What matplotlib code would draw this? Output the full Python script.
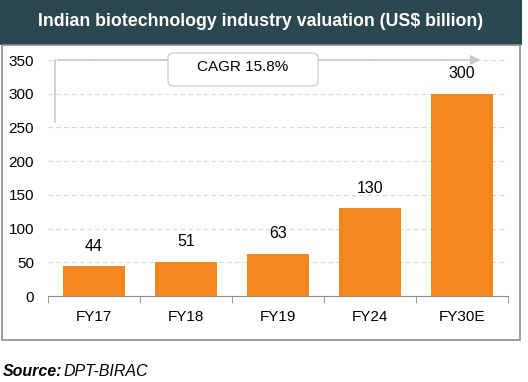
import matplotlib.pyplot as plt
from matplotlib.patches import Rectangle, FancyBboxPatch

plt.rcParams['font.family'] = ['Liberation Sans', 'DejaVu Sans']

years = ['FY17', 'FY18', 'FY19', 'FY24', 'FY30E']
values = [44, 51, 63, 130, 300]
yticks = [0, 50, 100, 150, 200, 250, 300, 350]

W, H = 528, 382
fig = plt.figure(figsize=(W / 100, H / 100), dpi=100)

# title banner
fig.patches.append(Rectangle((0, 1 - 45 / H), 522 / W, 45 / H, transform=fig.transFigure,
                             facecolor='#2b4750', edgecolor='none'))
fig.text(261 / W, 1 - 21 / H, 'Indian biotechnology industry valuation (US$ billion)',
         color='white', fontsize=12.8, fontweight='bold', ha='center', va='center')
# chart border
fig.patches.append(Rectangle((2 / W, 1 - 340 / H), 518 / W, 295 / H, transform=fig.transFigure,
                             facecolor='none', edgecolor='#8c8c8c', lw=1.2))

ax = fig.add_axes([48 / W, 1 - 296 / H, 460 / W, 236 / H])
x = range(len(years))
ax.bar(x, values, width=0.67, color='#f48720')
for i, v in zip(x, values):
    ax.text(i, v + 19, str(v), ha='center', va='bottom', fontsize=11.5)

ax.set_xlim(-0.5, len(years) - 0.5)
ax.set_ylim(0, 350)
ax.set_yticks(yticks)
ax.set_xticks(list(x))
ax.set_xticklabels(years)
ax.yaxis.grid(True, color='#d9d9d9', linestyle=(0, (4, 3)), lw=0.8)
ax.set_axisbelow(True)
for s in ['top', 'right', 'left']:
    ax.spines[s].set_visible(False)
ax.spines['bottom'].set_color('#8c8c8c')
ax.tick_params(axis='y', length=0, labelsize=11, pad=10)
ax.tick_params(axis='x', length=5, labelsize=11, color='#8c8c8c', pad=10)
ax.set_xticks([i - 0.5 for i in range(len(years) + 1)], minor=True)
ax.tick_params(axis='x', which='minor', length=5, color='#8c8c8c')
ax.tick_params(axis='x', which='major', length=0)

# CAGR arrow
ax.plot([-0.42, -0.42], [258, 350], color='#c8c8c8', lw=1.2, clip_on=False)
ax.annotate('', xy=(4.23, 350), xytext=(-0.42, 350),
            arrowprops=dict(arrowstyle='-|>', color='#c8c8c8', lw=1.2, mutation_scale=14),
            annotation_clip=False)
box = FancyBboxPatch((168 / W, 1 - 86 / H), 150 / W, 33 / H, transform=fig.transFigure,
                     boxstyle='round,pad=0,rounding_size=0.012', facecolor='white',
                     edgecolor='#d0d0d0', lw=1)
fig.patches.append(box)
fig.text(243 / W, 1 - 67 / H, 'CAGR 15.8%', ha='center', va='center', fontsize=11)

# source
fig.text(3 / W, 1 - 372 / H, 'Source:', fontsize=11.5, fontweight='bold', style='italic',
         va='center')
fig.text(63 / W, 1 - 372 / H, 'DPT-BIRAC', fontsize=11.5, style='italic', va='center')

fig.savefig('out.png', dpi=100)
